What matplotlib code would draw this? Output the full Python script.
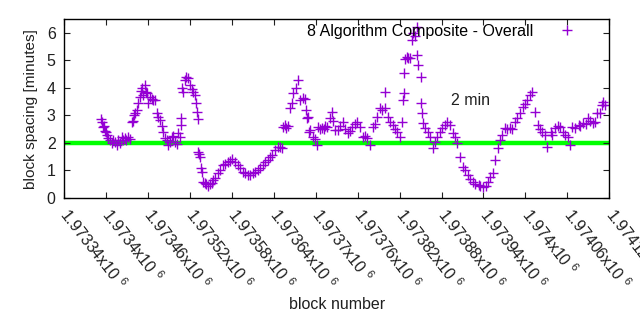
import numpy as np
import matplotlib
matplotlib.use("Agg")
import matplotlib.pyplot as plt
from matplotlib.ticker import FixedLocator, FuncFormatter

plt.rcParams['font.family'] = ['Liberation Sans', 'DejaVu Sans']
plt.rcParams['mathtext.fontset'] = 'custom'
plt.rcParams['mathtext.rm'] = 'Liberation Sans'
plt.rcParams['mathtext.it'] = 'Liberation Sans'

BASE_BLOCK = 1973340

# block number relative to BASE_BLOCK
block_offset = [
    53, 54, 56, 57, 59, 60, 62, 63, 66, 69, 70, 73, 76, 77, 80, 83, 84, 87, 89, 92, 94,
    97, 99, 100, 102, 104, 106, 109, 110, 112, 113, 116, 117, 119, 120, 123, 126, 127, 130,
    133, 135, 137, 140, 142, 145, 147, 149, 152, 155, 156, 159, 162, 163, 166, 167, 167,
    169, 170, 173, 175, 177, 180, 183, 185, 187, 189, 190, 192,
    192, 193, 195, 196, 198, 199, 202, 203, 206, 209, 212, 213, 216, 220, 223, 228, 230,
    235, 238, 240, 245, 249, 252, 256, 259, 263, 266, 270, 273, 278, 281, 285, 288, 292,
    295, 298, 302, 306, 309, 312,
    313, 316, 318, 321, 323, 326, 328, 332, 335, 338, 342, 345, 346, 348, 349, 351, 352,
    356, 359, 362, 364, 366, 369, 372, 374, 376, 381, 384, 385, 388, 392, 395, 399, 402,
    406, 409, 412, 416, 419, 424, 428, 431, 434, 438, 442, 445, 448, 452, 455, 459, 459,
    464, 467, 471, 474, 477, 481,
    484, 485, 487, 487, 488, 491, 492, 495, 498, 499, 502, 505, 505, 507, 510, 510, 512,
    514, 517, 521,
    524, 528, 531, 534, 538, 541, 545, 548, 552, 557, 560, 562, 567, 571, 574, 578, 581,
    585, 588, 593, 595, 600, 603, 607, 610, 613, 617, 621, 624, 627, 631, 634, 638, 641,
    645, 648, 653, 657, 660, 663, 667, 670, 674, 678, 681, 684, 688, 691, 696, 698, 703,
    707, 710, 714, 717, 721, 724, 727, 731, 736, 738, 743, 746, 750, 753, 757, 760, 763,
    767, 770, 771, 774,
]

# minutes between consecutive blocks
spacing = [
    2.87, 2.75, 2.58, 2.62, 2.45, 2.40, 2.30, 2.18, 2.10, 2.00, 2.12, 2.05, 1.93, 2.10, 2.00,
    2.20, 2.12, 2.18, 2.10, 2.20, 2.15,
    2.76, 2.80, 3.00, 3.10, 3.20, 3.45, 3.67, 3.90, 4.00, 3.75, 4.10, 3.85, 3.80, 3.45, 3.67,
    3.60, 3.56, 3.56,
    3.10, 2.95, 2.85, 2.60, 2.40, 2.18, 2.10, 1.93, 2.05, 2.20, 2.25, 2.04, 1.98, 2.35, 2.20,
    2.65, 2.90,
    4.00, 3.85, 4.30, 4.40, 4.35, 4.10, 3.95, 3.85, 3.75, 3.45, 3.13, 2.87,
    1.67, 1.60, 1.50, 1.10, 0.95, 0.58, 0.55, 0.50, 0.44, 0.50, 0.55, 0.65, 0.73, 0.90, 1.00,
    1.20, 1.25, 1.30, 1.35, 1.40, 1.30, 1.20, 1.10, 0.95, 0.90, 0.84, 0.85, 0.90, 0.95, 1.00,
    1.10, 1.20, 1.30, 1.38, 1.50, 1.56, 1.75, 1.85, 1.85, 1.82,
    2.58, 2.65, 2.55, 2.60, 3.27, 3.45, 3.80, 4.00, 4.30, 3.56, 3.63, 3.60, 3.20, 2.90, 2.95,
    2.40, 2.47, 2.20, 2.15, 1.93, 2.58, 2.50, 2.55, 2.50, 2.60, 2.58, 2.90, 3.13, 2.80, 2.47,
    2.47, 2.60, 2.76, 2.50, 2.36, 2.45, 2.58, 2.70, 2.76, 2.58, 2.20, 2.25, 2.18, 1.93, 2.58,
    2.70, 2.95, 3.27, 3.20, 3.27, 3.85, 2.95, 2.75, 2.65, 2.50, 2.40, 2.20,
    2.76, 3.56, 3.80, 4.55, 5.05, 5.13, 5.10, 5.10, 5.75, 6.00, 5.90, 6.20, 5.20, 4.84, 4.40,
    3.45, 3.10, 2.72, 2.55, 2.40,
    2.20, 1.82, 2.05, 2.20, 2.40, 2.55, 2.65, 2.76, 2.65, 2.36, 2.20, 2.00, 1.50, 1.13, 1.00,
    0.84, 0.70, 0.58, 0.50, 0.47, 0.42, 0.40, 0.45, 0.58, 0.75, 0.90, 1.38, 1.82, 2.10, 2.30,
    2.55, 2.50, 2.55, 2.50, 2.76, 2.90, 3.10, 3.30, 3.40, 3.56, 3.75, 3.85, 3.13, 2.65, 2.50,
    2.40, 2.30, 1.85, 2.40, 2.30, 2.55, 2.60, 2.58, 2.40, 2.30, 2.20, 1.93, 2.58, 2.55, 2.65,
    2.60, 2.72, 2.70, 2.90, 2.80, 2.72, 2.75, 3.10, 3.10, 3.38, 3.50, 3.38,
]

target_minutes = 2
target_label = '2 min'
x_ticks = [1973340 + 60 * i for i in range(14)]
series_label = "8 Algorithm Composite - Overall"

blocks = BASE_BLOCK + np.array(block_offset)
FS = 11.5

fig = plt.figure(figsize=(6.4, 3.3), dpi=100)
ax = fig.add_axes([0.1, 0.4, 0.852, 0.542])

ax.axhline(target_minutes, color='#00ff00', lw=3.2, zorder=1)
ax.plot(blocks, spacing, ls='none', marker='+', ms=7, mew=1.0,
        color='#9400d3', label=series_label, zorder=2)
ax.text(1973922, 3.53, target_label, ha='center', va='center',
        fontsize=FS, color='#202020')

ax.set_xlim(x_ticks[0], x_ticks[-1])
ax.set_ylim(0, 6.5)
ax.set_yticks(range(7))
ax.xaxis.set_major_locator(FixedLocator(x_ticks))


def fmt(v, pos):
    s = ('%.6f' % (v / 1e6)).rstrip('0').rstrip('.')
    return s + r'x10 $^{6}$'


ax.xaxis.set_major_formatter(FuncFormatter(fmt))
ax.tick_params(direction='in', length=4, width=0.8, top=True, right=True,
               labelsize=FS, colors='#202020')
ax.tick_params(axis='x', pad=9)
ax.tick_params(axis='y', pad=6)
for lab in ax.get_xticklabels():
    lab.set_rotation(-52)
    lab.set_ha('left')
    lab.set_va('center')
    lab.set_rotation_mode('anchor')
for sp in ax.spines.values():
    sp.set_linewidth(1.0)

ax.set_xlabel('block number', fontsize=FS, color='#202020', labelpad=4)
ax.set_ylabel('block spacing [minutes]', fontsize=FS * 0.96, color='#202020', labelpad=6)

ax.legend(loc='upper right', bbox_to_anchor=(0.957, 1.01), borderaxespad=0,
          frameon=False, fontsize=FS, markerfirst=False,
          handlelength=1.5, handletextpad=1.4)

fig.savefig('out.png', dpi=100)
